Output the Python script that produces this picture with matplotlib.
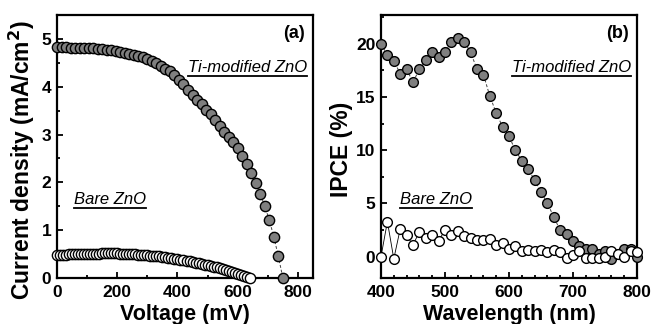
import numpy as np
import matplotlib.pyplot as plt
from matplotlib.ticker import MultipleLocator
from matplotlib.lines import Line2D

plt.rcParams['font.family'] = ['Liberation Sans', 'DejaVu Sans']
plt.rcParams['font.weight'] = 'bold'

# (a) J-V curves
v_ti = [0, 15, 30, 45, 60, 75, 90, 105, 120, 135, 150, 165, 180, 195, 210, 225, 240,
        255, 270, 285, 300, 315, 330, 345, 360, 375, 390, 405, 420, 435, 450, 465,
        480, 495, 510, 525, 540, 555, 570, 585, 600, 615, 630, 645, 660, 675, 690,
        705, 720, 735, 750]
j_ti = [4.83, 4.83, 4.83, 4.82, 4.82, 4.81, 4.81, 4.80, 4.80, 4.79, 4.78, 4.77, 4.76,
        4.74, 4.72, 4.70, 4.68, 4.66, 4.64, 4.62, 4.58, 4.54, 4.50, 4.44, 4.37, 4.32,
        4.25, 4.15, 4.05, 3.94, 3.83, 3.73, 3.64, 3.52, 3.42, 3.30, 3.18, 3.06, 2.94,
        2.84, 2.72, 2.56, 2.39, 2.20, 1.98, 1.76, 1.50, 1.21, 0.86, 0.45, 0.00]

v_bare = [0, 10, 20, 30, 40, 50, 60, 70, 80, 90, 100, 110, 120, 130, 140, 150, 160,
          170, 180, 190, 200, 210, 220, 230, 240, 250, 260, 270, 280, 290, 300, 310,
          320, 330, 340, 350, 360, 370, 380, 390, 400, 410, 420, 430, 440, 450, 460,
          470, 480, 490, 500, 510, 520, 530, 540, 550, 560, 570, 580, 590, 600, 610,
          620, 630, 640]
j_bare = [0.49, 0.49, 0.49, 0.49, 0.50, 0.50, 0.50, 0.50, 0.50, 0.51, 0.51, 0.51, 0.51,
          0.51, 0.51, 0.52, 0.52, 0.52, 0.52, 0.52, 0.52, 0.51, 0.51, 0.51, 0.51, 0.50,
          0.50, 0.49, 0.49, 0.48, 0.48, 0.47, 0.46, 0.46, 0.45, 0.44, 0.43, 0.42, 0.41,
          0.40, 0.39, 0.38, 0.37, 0.36, 0.35, 0.34, 0.32, 0.31, 0.30, 0.28, 0.27, 0.25,
          0.24, 0.22, 0.20, 0.18, 0.16, 0.14, 0.12, 0.10, 0.08, 0.06, 0.04, 0.02, 0.00]

# (b) IPCE spectra
wl = [400, 410, 420, 430, 440, 450, 460, 470, 480, 490, 500, 510, 520, 530, 540, 550,
      560, 570, 580, 590, 600, 610, 620, 630, 640, 650, 660, 670, 680, 690, 700, 710,
      720, 730, 740, 750, 760, 770, 780, 790, 800]
ipce_ti = [20.0, 18.9, 18.4, 17.2, 17.6, 16.4, 17.6, 18.5, 19.2, 18.8, 19.2, 20.2, 20.5,
           20.2, 19.2, 17.6, 17.1, 15.1, 13.5, 12.2, 11.3, 10.0, 9.0, 8.2, 7.2, 6.05,
           5.05, 3.7, 2.5, 2.1, 1.5, 1.0, 0.7, 0.7, 0.25, 0.55, -0.2, 0.25, 0.7, 0.7,
           -0.05]
ipce_bare = [0.0, 3.3, -0.2, 2.6, 2.0, 1.1, 2.35, 1.75, 2.0, 1.5, 2.5, 2.0, 2.45, 1.9,
             1.75, 1.6, 1.55, 1.65, 1.1, 1.25, 0.7, 1.05, 0.5, 0.6, 0.55, 0.6, 0.4, 0.6,
             0.4, -0.1, 0.2, 0.55, -0.1, -0.1, -0.1, 0.0, 0.55, 0.3, -0.05, 0.55, 0.4]

gray = '#7f7f7f'

fig = plt.figure(figsize=(6.51, 3.24), dpi=100)
ax1 = fig.add_axes([57 / 651, 46 / 324, 256 / 651, 263 / 324])
ax2 = fig.add_axes([381 / 651, 46 / 324, 256 / 651, 263 / 324])

ax1.plot(v_ti, j_ti, ls=(0, (3, 2)), lw=0.7, color='#444444', marker='o', ms=7.4,
         mfc=gray, mec='black', mew=1.0, clip_on=False, zorder=3)
ax1.plot(v_bare, j_bare, ls='-', lw=0.6, color='black', marker='o', ms=7.4,
         mfc='white', mec='black', mew=1.0, clip_on=False, zorder=3)
ax1.set_xlim(0, 850)
ax1.set_ylim(0, 5.5)
ax1.xaxis.set_major_locator(MultipleLocator(200))
ax1.xaxis.set_minor_locator(MultipleLocator(100))
ax1.yaxis.set_major_locator(MultipleLocator(1))
ax1.yaxis.set_minor_locator(MultipleLocator(0.5))
ax1.set_xlabel('Voltage (mV)', fontsize=15.5, fontweight='bold')
ax1.set_ylabel('Current density (mA/cm$^\\mathbf{2}$)', fontsize=16.5, fontweight='bold')
ax1.xaxis.set_label_coords(0.5, -0.14, transform=ax1.transAxes)
ax1.yaxis.set_label_coords(-0.137, 0.45, transform=ax1.transAxes)
ax1.xaxis.label.set_va('center')
ax1.yaxis.label.set_va('center')
ax1.text(0.97, 0.93, '(a)', transform=ax1.transAxes, ha='right', va='center',
         fontsize=13, fontweight='bold')
t1 = ax1.text(0.51, 0.80, 'Ti-modified ZnO', transform=ax1.transAxes, ha='left',
              va='center', fontsize=12, fontstyle='italic', fontweight='normal')
t2 = ax1.text(0.066, 0.30, 'Bare ZnO', transform=ax1.transAxes, ha='left',
              va='center', fontsize=12, fontstyle='italic', fontweight='normal')

ax2.plot(wl, ipce_ti, ls=(0, (3, 2)), lw=0.7, color='#444444', marker='o', ms=7.0,
         mfc=gray, mec='black', mew=1.0, clip_on=False, zorder=3)
ax2.plot(wl, ipce_bare, ls='-', lw=0.6, color='black', marker='o', ms=7.0,
         mfc='white', mec='black', mew=1.0, clip_on=False, zorder=4)
ax2.set_xlim(400, 800)
ax2.set_ylim(-2, 22.7)
ax2.xaxis.set_major_locator(MultipleLocator(100))
ax2.xaxis.set_minor_locator(MultipleLocator(20))
ax2.yaxis.set_major_locator(MultipleLocator(5))
ax2.yaxis.set_minor_locator(MultipleLocator(2.5))
ax2.set_xlabel('Wavelength (nm)', fontsize=15.5, fontweight='bold')
ax2.set_ylabel('IPCE (%)', fontsize=16.5, fontweight='bold')
ax2.xaxis.set_label_coords(0.5, -0.14, transform=ax2.transAxes)
ax2.yaxis.set_label_coords(-0.154, 0.49, transform=ax2.transAxes)
ax2.xaxis.label.set_va('center')
ax2.yaxis.label.set_va('center')
ax2.text(0.97, 0.93, '(b)', transform=ax2.transAxes, ha='right', va='center',
         fontsize=13, fontweight='bold')
t3 = ax2.text(0.51, 0.80, 'Ti-modified ZnO', transform=ax2.transAxes, ha='left',
              va='center', fontsize=12, fontstyle='italic', fontweight='normal')
t4 = ax2.text(0.074, 0.30, 'Bare ZnO', transform=ax2.transAxes, ha='left',
              va='center', fontsize=12, fontstyle='italic', fontweight='normal')

for ax in (ax1, ax2):
    for s in ax.spines.values():
        s.set_linewidth(1.6)
    ax.tick_params(which='both', direction='in', width=1.3, labelsize=12.5)
    ax.tick_params(axis='x', pad=5)
    ax.tick_params(axis='y', pad=4)
    ax.tick_params(which='major', length=4.5)
    ax.tick_params(which='minor', length=2.5)
    for lab in ax.get_xticklabels() + ax.get_yticklabels():
        lab.set_fontweight('bold')

# underline the sample labels
fig.canvas.draw()
r = fig.canvas.get_renderer()
for t in (t1, t2, t3, t4):
    bb = t.get_window_extent(renderer=r)
    y = bb.y0 - 1
    fig.add_artist(Line2D([bb.x0 / 651, bb.x1 / 651], [y / 324, y / 324],
                          color='black', lw=1.3, transform=fig.transFigure))

fig.savefig('out.png', dpi=100)
